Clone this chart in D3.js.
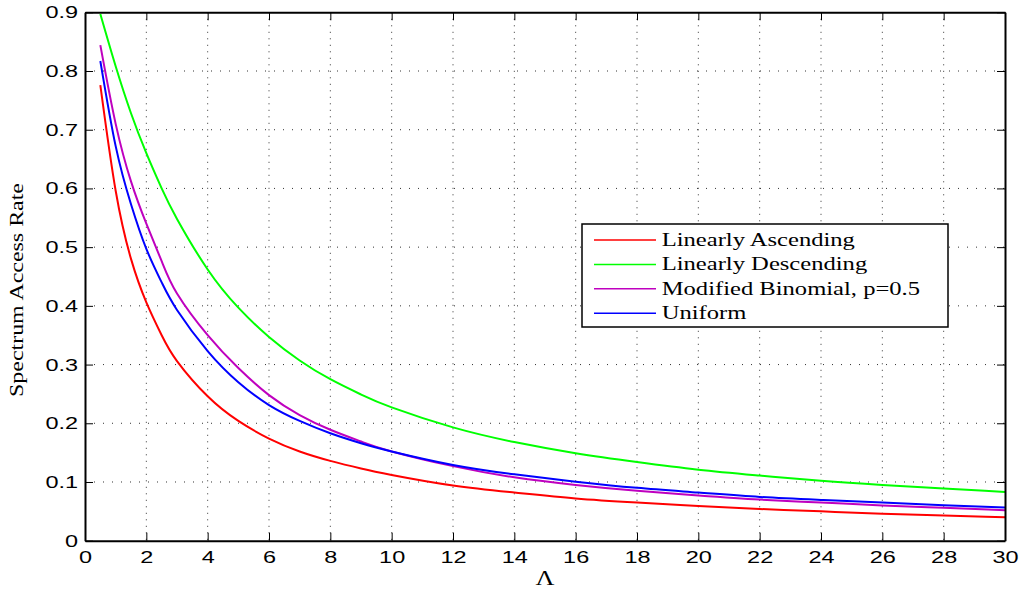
<!DOCTYPE html>
<html>
<head>
<meta charset="utf-8">
<script src="https://cdn.jsdelivr.net/npm/d3@7"></script>
<style>
  body { margin: 0; background: #fff; }
  svg { display: block; }
</style>
</head>
<body>
<div id="chart-area"></div>
<script>
// values
var lambda = [0.5, 1, 1.5, 2, 2.5, 3, 4, 5, 6, 7, 8, 9, 10, 12, 14, 16, 18, 20, 22, 24, 26, 28, 30];

var linAscending = [0.776, 0.596, 0.480, 0.406, 0.350, 0.306, 0.246, 0.204, 0.174, 0.152, 0.136, 0.123, 0.112,
  0.094, 0.082, 0.072, 0.065, 0.059, 0.054, 0.050, 0.046, 0.043, 0.040];
var linDescending = [0.897, 0.808, 0.728, 0.660, 0.600, 0.548, 0.462, 0.397, 0.347, 0.307, 0.275, 0.249, 0.227,
  0.193, 0.168, 0.149, 0.134, 0.121, 0.111, 0.102, 0.095, 0.089, 0.083];
var modBinomial = [0.844, 0.710, 0.612, 0.540, 0.476, 0.421, 0.350, 0.294, 0.248, 0.214, 0.189, 0.169, 0.152,
  0.127, 0.108, 0.095, 0.085, 0.077, 0.070, 0.065, 0.060, 0.056, 0.052];
var uniform = [0.817, 0.672, 0.573, 0.497, 0.440, 0.393, 0.323, 0.270, 0.231, 0.204, 0.183, 0.166, 0.152,
  0.129, 0.113, 0.1005, 0.090, 0.082, 0.0745, 0.0695, 0.065, 0.0605, 0.0565];

var seriesNames = ["Linearly Ascending", "Linearly Descending", "Modified Binomial, p=0.5", "Uniform"];
var seriesValues = [linAscending, linDescending, modBinomial, uniform];
var seriesColors = ["#ff0000", "#00ff00", "#bf00bf", "#0000ff"];

var xTicks = [0, 2, 4, 6, 8, 10, 12, 14, 16, 18, 20, 22, 24, 26, 28, 30];
var yTicks = [0, 0.1, 0.2, 0.3, 0.4, 0.5, 0.6, 0.7, 0.8, 0.9];

var W = 1023, H = 592;
var plotLeft = 85, plotRight = 1005, plotTop = 12.3, plotBottom = 540.7;

var svg = d3.select("#chart-area").append("svg")
  .attr("width", W)
  .attr("height", H);

var x = d3.scaleLinear().domain([0, 30]).range([plotLeft, plotRight]);
var y = d3.scaleLinear().domain([0, 0.9]).range([plotBottom, plotTop]);

// dotted grid
svg.append("g").selectAll("line")
  .data(xTicks.slice(1, -1))
  .enter().append("line")
  .attr("x1", d => x(d)).attr("x2", d => x(d))
  .attr("y1", plotTop).attr("y2", plotBottom)
  .attr("stroke", "#333")
  .attr("stroke-width", 1)
  .attr("stroke-dasharray", "1,5.5");

svg.append("g").selectAll("line")
  .data(yTicks.slice(1, -1))
  .enter().append("line")
  .attr("x1", plotLeft).attr("x2", plotRight)
  .attr("y1", d => y(d)).attr("y2", d => y(d))
  .attr("stroke", "#333")
  .attr("stroke-width", 1)
  .attr("stroke-dasharray", "1,8");

// curves
var line = d3.line()
  .x((d, i) => x(lambda[i]))
  .y(d => y(d))
  .curve(d3.curveNatural);

svg.append("g").selectAll("path")
  .data(seriesValues)
  .enter().append("path")
  .attr("d", d => line(d))
  .attr("fill", "none")
  .attr("stroke", (d, i) => seriesColors[i])
  .attr("stroke-width", 2);

// axes (ticks inward, on all four sides)
var tickFont = "'Liberation Sans', Arial, sans-serif";

svg.append("g")
  .attr("transform", "translate(0," + plotBottom + ")")
  .call(d3.axisBottom(x).tickValues(xTicks).tickSize(-8).tickSizeOuter(0).tickPadding(10));

svg.append("g")
  .attr("transform", "translate(" + plotLeft + ",0)")
  .call(d3.axisLeft(y).tickValues(yTicks).tickSize(-8).tickSizeOuter(0).tickPadding(5)
    .tickFormat(d => d === 0 ? "0" : d.toFixed(1)));

svg.append("g")
  .attr("transform", "translate(" + plotRight + ",0)")
  .call(d3.axisRight(y).tickValues(yTicks).tickSize(-8).tickSizeOuter(0).tickFormat(""));

svg.append("g")
  .attr("transform", "translate(0," + plotTop + ")")
  .call(d3.axisTop(x).tickValues(xTicks).tickSize(-8).tickSizeOuter(0).tickFormat(""));

svg.selectAll(".domain").attr("stroke", "#000").attr("stroke-width", 2);
svg.selectAll(".tick line").attr("stroke", "#000").attr("stroke-width", 1);

svg.selectAll(".tick text")
  .attr("font-family", tickFont)
  .attr("font-size", 17)
  .attr("fill", "#000")
  .attr("transform", "scale(1.38,1)");

// legend
var legend = svg.append("g");

legend.append("rect")
  .attr("x", 582).attr("y", 224)
  .attr("width", 366).attr("height", 103)
  .attr("fill", "#fff")
  .attr("stroke", "#000")
  .attr("stroke-width", 1.5);

var rows = legend.selectAll("g.row")
  .data(seriesNames)
  .enter().append("g")
  .attr("class", "row")
  .attr("transform", (d, i) => "translate(0," + (240 + i * 24.4) + ")");

rows.append("line")
  .attr("x1", 594).attr("x2", 656)
  .attr("y1", 0).attr("y2", 0)
  .attr("stroke", (d, i) => seriesColors[i])
  .attr("stroke-width", 1.5);

rows.append("text")
  .attr("transform", "translate(661.7,5.7) scale(1.33,1)")
  .attr("font-family", "'Liberation Serif', 'Times New Roman', serif")
  .attr("font-size", 18.5)
  .attr("fill", "#000")
  .text(d => d);

// axis titles
svg.append("text")
  .attr("x", 545).attr("y", 585)
  .attr("text-anchor", "middle")
  .attr("font-family", "'Liberation Serif', 'Times New Roman', serif")
  .attr("font-size", 20)
  .attr("textLength", 19)
  .attr("lengthAdjust", "spacingAndGlyphs")
  .text("Λ");

svg.append("text")
  .attr("transform", "translate(23,290) rotate(-90)")
  .attr("text-anchor", "middle")
  .attr("font-family", "'Liberation Serif', 'Times New Roman', serif")
  .attr("font-size", 19)
  .attr("textLength", 214)
  .attr("lengthAdjust", "spacingAndGlyphs")
  .text("Spectrum Access Rate");
</script>
</body>
</html>
